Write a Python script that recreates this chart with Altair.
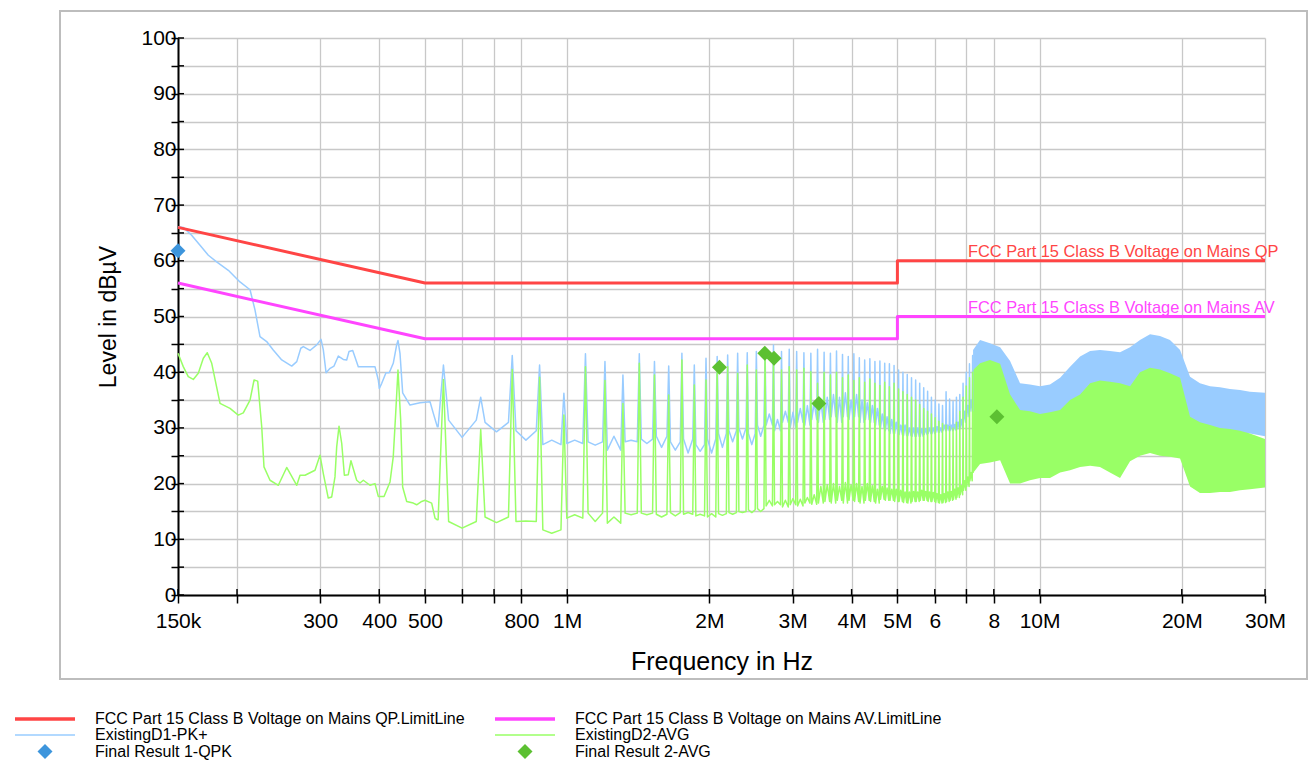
import json
import altair as alt
import pandas as pd

# ---------------- series names ----------------
QPN = "FCC Part 15 Class B Voltage on Mains QP.LimitLine"
AVN = "FCC Part 15 Class B Voltage on Mains AV.LimitLine"
PKN = "ExistingD1-PK+"
AGN = "ExistingD2-AVG"
F1N = "Final Result 1-QPK"
F2N = "Final Result 2-AVG"

# ---------------- limit lines (MHz, dBuV) ----------------
qp_f = [0.15, 0.5, 5.0, 5.0, 30.0]
qp_v = [66.0, 56.0, 56.0, 60.0, 60.0]
av_f = [0.15, 0.5, 5.0, 5.0, 30.0]
av_v = [56.0, 46.0, 46.0, 50.0, 50.0]

label_text = ["FCC Part 15 Class B Voltage on Mains QP", "FCC Part 15 Class B Voltage on Mains AV"]
label_f = [7.05, 7.05]
label_v = [60.0, 50.0]

# ---------------- low-frequency part of the traces ----------------
pk_start_f = [0.150, 0.1539, 0.1603, 0.1670, 0.1739, 0.1811, 0.1917, 0.2029, 0.2131, 0.2183,
              0.2237, 0.2311, 0.2386, 0.2487, 0.2611, 0.2676, 0.2729, 0.2763, 0.2854, 0.2949,
              0.3012, 0.3046, 0.3087, 0.3148, 0.3209, 0.3277, 0.3357, 0.3413, 0.3452, 0.3515,
              0.3612, 0.3918, 0.3982, 0.4002, 0.4049, 0.4134, 0.4200, 0.4283, 0.4355, 0.4383,
              0.4426, 0.4484, 0.4647, 0.4881, 0.5124, 0.5207, 0.5309]
pk_start_v = [66.1, 66.0, 64.6, 62.8, 61.0, 59.8, 58.3, 56.2, 54.8, 51.2,
              46.4, 45.5, 44.0, 42.2, 41.1, 41.9, 44.3, 44.6, 43.9, 44.9,
              45.9, 44.0, 39.9, 40.7, 41.1, 42.9, 42.3, 42.2, 43.7, 43.9,
              41.0, 41.0, 38.6, 37.1, 38.0, 39.9, 39.9, 41.6, 44.9, 45.7,
              43.4, 36.3, 34.1, 34.5, 34.7, 32.6, 30.2]

avg_start_f = [0.150, 0.1539, 0.1577, 0.1616, 0.1656, 0.1697, 0.1730, 0.1768, 0.1841, 0.1933,
               0.2012, 0.2062, 0.2131, 0.2173, 0.2212, 0.2256, 0.2281, 0.2349, 0.2446, 0.2548,
               0.2676, 0.2719, 0.2786, 0.2925, 0.2997, 0.3046, 0.3120, 0.3173, 0.3224, 0.3251,
               0.3288, 0.3332, 0.3375, 0.3440, 0.3485, 0.3584, 0.3642, 0.3702, 0.3824, 0.3918,
               0.3982, 0.4095, 0.4216, 0.4283, 0.4334, 0.4383, 0.4441, 0.4484, 0.4573, 0.4722,
               0.4801, 0.4920, 0.5000, 0.5165, 0.5250, 0.5309]
avg_start_v = [43.4, 41.0, 39.2, 38.7, 39.8, 42.5, 43.5, 41.6, 34.4, 33.5,
               32.3, 32.7, 35.0, 38.6, 38.4, 30.2, 23.0, 20.6, 19.7, 22.9,
               19.7, 21.5, 21.5, 22.4, 25.1, 21.8, 17.4, 17.6, 21.2, 26.6,
               30.3, 27.2, 21.5, 21.6, 24.1, 20.6, 20.1, 20.6, 19.7, 20.0,
               17.7, 17.7, 20.3, 24.8, 32.6, 40.4, 31.4, 19.4, 16.8, 16.5,
               16.2, 16.8, 17.0, 16.5, 13.8, 13.5]

# ---------------- harmonic spikes (MHz) ----------------
harm_f = [0.547, 0.656, 0.765, 0.874, 0.984, 1.093, 1.202, 1.312, 1.421, 1.530,
          1.640, 1.749, 1.858, 1.967, 2.077, 2.186, 2.295, 2.405, 2.514, 2.623,
          2.733, 2.842, 2.951, 3.060, 3.170, 3.279, 3.388, 3.498, 3.607, 3.716,
          3.826, 3.935, 4.044, 4.153, 4.263, 4.372, 4.481, 4.591, 4.700, 4.809,
          4.919, 5.028, 5.137, 5.246, 5.356, 5.465, 5.574, 5.684, 5.793, 5.902,
          6.012, 6.121, 6.230, 6.339, 6.449, 6.558, 6.667, 6.777, 6.886, 6.995,
          7.105, 7.214]
pk_peak = [41.3, 35.5, 43.0, 41.3, 36.2, 43.3, 41.9, 39.5, 43.3, 41.9,
           41.1, 43.4, 41.3, 42.5, 42.8, 43.1, 43.4, 43.5, 43.7, 44.0,
           44.9, 43.7, 44.1, 43.7, 43.5, 43.4, 44.1, 43.6, 43.4, 43.8,
           43.2, 42.8, 43.3, 42.6, 42.2, 42.4, 41.9, 42.0, 41.6, 41.5,
           41.2, 40.4, 40.0, 39.6, 39.0, 38.6, 38.0, 37.2, 36.6, 35.5,
           35.0, 34.3, 34.0, 36.5, 35.2, 34.8, 35.5, 36.0, 38.0, 40.0,
           41.5, 43.0]
avg_peak = [38.7, 29.7, 40.5, 39.1, 32.3, 41.0, 38.5, 34.4, 41.6, 39.5,
            35.9, 42.2, 37.7, 38.6, 41.0, 41.0, 39.8, 41.3, 40.4, 43.4,
            42.5, 40.4, 41.0, 40.4, 40.7, 40.1, 38.0, 40.0, 39.5, 40.0,
            39.0, 39.5, 38.5, 39.0, 38.2, 38.8, 38.0, 37.6, 38.2, 37.4,
            38.0, 37.0, 36.5, 36.0, 35.5, 35.0, 34.2, 33.5, 33.0, 32.5,
            31.8, 31.2, 30.8, 30.5, 30.2, 30.0, 31.0, 33.0, 35.5, 37.5,
            39.0, 40.0]
# noise floor between neighbouring harmonics: near the spikes / midway
pk_gap_base = [31.4, 31.0, 29.5, 27.0, 27.2, 27.5, 26.0, 27.5, 28.0, 28.5,
               27.5, 28.0, 27.0, 28.0, 29.0, 29.5, 30.0, 29.0, 30.5, 30.5,
               29.5, 31.0, 30.0, 31.0, 30.5, 31.5, 31.0, 31.5, 32.0, 31.0,
               32.0, 31.5, 32.0, 31.0, 31.5, 31.0, 30.5, 30.0, 29.5, 29.0,
               29.0, 28.8, 28.6, 28.6, 28.5, 28.5, 28.5, 28.8, 29.0, 29.0,
               29.2, 29.2, 29.5, 29.5, 29.5, 29.6, 29.8, 30.0, 31.0, 32.0,
               33.0]
pk_gap_mid = [28.3, 29.3, 27.8, 27.8, 27.8, 26.9, 28.5, 27.8, 27.2, 26.5,
              26.0, 25.5, 25.8, 25.5, 26.5, 27.5, 28.0, 27.0, 28.5, 32.5,
              31.5, 33.0, 32.8, 33.5, 34.0, 34.5, 35.0, 35.5, 36.0, 35.5,
              36.3, 35.0, 36.0, 35.0, 34.5, 34.0, 33.5, 32.5, 32.0, 31.5,
              31.0, 30.5, 30.5, 30.0, 30.0, 30.0, 29.8, 29.8, 30.0, 30.0,
              30.2, 30.0, 30.5, 30.5, 30.5, 30.6, 31.0, 31.5, 33.0, 34.0,
              35.0]
avg_gap_base = [13.2, 14.0, 13.2, 11.7, 13.8, 14.7, 12.9, 14.7, 14.7, 14.5,
                14.8, 14.5, 14.2, 14.0, 14.6, 14.8, 15.0, 15.3, 15.5, 16.0,
                16.2, 15.8, 16.2, 16.0, 16.5, 16.3, 16.5, 16.8, 16.5, 17.0,
                16.5, 17.0, 16.8, 16.5, 17.0, 16.8, 16.5, 17.2, 17.0, 17.0,
                16.8, 16.8, 16.6, 16.5, 16.8, 16.8, 17.0, 17.0, 16.8, 16.8,
                16.6, 16.5, 16.6, 16.8, 17.0, 17.2, 17.5, 18.0, 18.8, 19.5,
                20.5]
avg_gap_mid = [12.0, 13.0, 13.3, 11.1, 14.4, 13.2, 14.0, 14.4, 14.4, 14.0,
               14.2, 14.8, 14.5, 14.6, 14.3, 14.5, 14.8, 14.8, 15.0, 17.0,
               16.8, 17.0, 17.3, 17.2, 17.5, 18.0, 19.5, 19.8, 20.0, 19.5,
               20.2, 19.8, 20.0, 19.5, 20.0, 19.6, 19.0, 19.5, 19.2, 19.0,
               19.0, 18.8, 18.5, 18.5, 18.6, 18.5, 18.8, 18.6, 18.5, 18.4,
               18.2, 18.0, 18.2, 18.5, 18.6, 19.0, 19.2, 19.6, 20.5, 21.2,
               22.0]

# ---------------- dense part above ~7 MHz: envelope of the spectrum ----------------
band_f = [7.23, 7.48, 7.85, 8.25, 8.66, 9.09, 9.54, 10.02, 10.52, 11.05,
          11.60, 12.18, 12.79, 13.42, 14.09, 14.80, 15.54, 16.31, 17.13, 17.98,
          18.88, 19.83, 20.82, 21.85, 22.95, 24.09, 25.29, 26.56, 27.88, 30.0]
pk_band_hi = [44.0, 45.8, 45.2, 44.5, 42.0, 38.0, 37.8, 37.5, 37.8, 39.0,
              41.0, 42.8, 43.8, 44.0, 43.8, 43.6, 44.5, 45.8, 46.8, 46.5,
              45.8, 44.0, 39.2, 38.0, 37.5, 37.3, 37.0, 36.8, 36.5, 36.3]
pk_band_lo = [33.0, 33.0, 33.0, 33.0, 31.5, 30.5, 30.0, 30.0, 30.2, 30.5,
              31.0, 32.0, 33.0, 33.0, 33.0, 33.0, 33.5, 34.0, 34.5, 34.5,
              34.0, 33.0, 31.0, 30.5, 30.0, 29.8, 29.5, 29.2, 29.0, 28.5]
avg_band_hi = [40.4, 41.6, 42.2, 41.5, 36.0, 33.2, 33.0, 32.5, 32.8, 33.2,
               35.0, 36.0, 38.0, 38.5, 38.3, 38.0, 37.5, 40.0, 40.8, 40.5,
               39.8, 39.0, 32.0, 31.0, 30.5, 30.0, 29.8, 29.5, 29.0, 28.0]
avg_band_lo = [21.9, 23.5, 23.8, 24.2, 20.0, 20.0, 20.6, 21.0, 21.0, 22.0,
               22.4, 23.0, 23.2, 23.0, 22.0, 21.0, 24.0, 25.0, 25.5, 25.0,
               24.8, 24.5, 19.5, 18.3, 18.3, 18.5, 18.5, 18.8, 19.0, 19.3]

# ---------------- final results ----------------
qpk_f = [0.150]
qpk_v = [61.8]
fav_f = [2.10, 2.62, 2.74, 3.41, 8.12]
fav_v = [40.9, 43.4, 42.5, 34.4, 32.0]

# ---------------- axis ticks ----------------
x_ticks = [0.15, 0.2, 0.3, 0.4, 0.5, 0.6, 0.7, 0.8, 1, 2, 3, 4, 5, 6, 7, 8, 10, 20, 30]
x_tick_labels = ["150k", "", "300", "400", "500", "", "", "800", "1M", "2M", "3M", "4M",
                 "5M", "6", "", "8", "10M", "20M", "30M"]
y_ticks = list(range(0, 101, 5))

# ---------------- build trace polylines ----------------
HW = 0.014  # displayed half width of a harmonic peak, MHz


def build_trace(start_f, start_v, peaks, gap_base, gap_mid, end_v):
    fs = list(start_f)
    vs = list(start_v)
    n = len(harm_f)
    for i in range(n):
        left = gap_base[i - 1] if i > 0 else start_v[-1]
        fs += [harm_f[i] - HW, harm_f[i]]
        vs += [left, peaks[i]]
        if i < n - 1:
            fs += [harm_f[i] + HW, (harm_f[i] * harm_f[i + 1]) ** 0.5]
            vs += [gap_base[i], gap_mid[i]]
        else:
            fs += [harm_f[i] + HW]
            vs += [end_v]
    return fs, vs


pk_f, pk_v = build_trace(pk_start_f, pk_start_v, pk_peak, pk_gap_base, pk_gap_mid, pk_band_lo[0])
ag_f, ag_v = build_trace(avg_start_f, avg_start_v, avg_peak, avg_gap_base, avg_gap_mid, avg_band_lo[0])

band_df = pd.DataFrame({"f": band_f, "pkhi": pk_band_hi, "pklo": pk_band_lo,
                        "aghi": avg_band_hi, "aglo": avg_band_lo})

FONT = "Liberation Sans"
GRID = "#C8C8C8"

x_label_expr = f"{json.dumps(x_tick_labels)}[indexof({json.dumps(x_ticks)}, datum.value)]"

x_axis = alt.Axis(values=x_ticks, labelExpr=x_label_expr, grid=True, gridColor=GRID, gridWidth=1.3,
                  domainColor="black", domainWidth=2, tickColor="black", tickWidth=1.5, tickSize=8,
                  labelFont=FONT, labelFontSize=21, labelColor="black", labelPadding=7,
                  labelFlush=False, labelOverlap=False,
                  titleFont=FONT, titleFontSize=25, titleFontWeight="normal", titleColor="black",
                  titlePadding=18)
y_axis = alt.Axis(values=y_ticks, labelExpr="datum.value % 10 === 0 ? datum.label : ''",
                  grid=True, gridColor=GRID, gridWidth=1.3,
                  domainColor="black", domainWidth=2, tickColor="black", tickWidth=1.5, tickSize=7,
                  labelFont=FONT, labelFontSize=21, labelColor="black", labelPadding=-5,
                  labelFlush=False, labelOverlap=False,
                  titleFont=FONT, titleFontSize=23, titleFontWeight="normal", titleColor="black",
                  titlePadding=20)

xs = alt.Scale(type="log", domain=[0.15, 30], nice=False)
ys = alt.Scale(domain=[0, 100], nice=False, zero=False)
XT = "Frequency in Hz"
YT = "Level in dBµV"


def X(field="f"):
    return alt.X(f"{field}:Q", scale=xs, axis=x_axis, title=XT)


def Y(field="v"):
    return alt.Y(f"{field}:Q", scale=ys, axis=y_axis, title=YT)


def one_color(name, colour, lx, ly, sym, size, sw, laboff):
    return alt.Color(
        "series:N",
        scale=alt.Scale(domain=[name], range=[colour]),
        legend=alt.Legend(orient="none", legendX=lx, legendY=ly, symbolType=sym, symbolSize=size,
                          symbolStrokeWidth=sw, labelOffset=laboff, labelFont=FONT,
                          labelFontSize=16, labelColor="black", labelLimit=800,
                          clipHeight=16, padding=0, title=None),
        title=None,
    )


def line_layer(fs, vs, name, colour, width, lx, ly, sw, laboff):
    df = pd.DataFrame({"f": fs, "v": vs, "i": range(len(fs)), "series": name})
    return alt.Chart(df).mark_line(strokeWidth=width, strokeJoin="round").encode(
        x=X(), y=Y(), order="i:Q",
        color=one_color(name, colour, lx, ly, "stroke", 3600, sw, laboff))


def point_layer(fs, vs, name, colour, lx, ly, laboff):
    df = pd.DataFrame({"f": fs, "v": vs, "series": name})
    return alt.Chart(df).mark_point(shape="diamond", filled=True, size=225, opacity=1).encode(
        x=X(), y=Y(), color=one_color(name, colour, lx, ly, "diamond", 225, 0, laboff))


frame = alt.Chart(pd.DataFrame({"a": [0]})).mark_rect(
    fill="transparent", stroke="#BDBDBD", strokeWidth=2
).encode(x=alt.value(-118), x2=alt.value(1129), y=alt.value(-27), y2=alt.value(641))

# short inner tick marks on both axes
ytick_df = pd.DataFrame({"v": y_ticks})
ytick_in = alt.Chart(ytick_df).mark_rule(color="black", strokeWidth=1.5).encode(
    y=Y(), x=alt.value(0), x2=alt.value(6))
xtick_df = pd.DataFrame({"f": x_ticks})
xtick_in = alt.Chart(xtick_df).mark_rule(color="black", strokeWidth=1.5).encode(
    x=X(), y=alt.value(551), y2=alt.value(557))

pk_band = alt.Chart(band_df).mark_area(color="#99CCFF", opacity=1).encode(
    x=X(), y=Y("pkhi"), y2="pklo:Q")
ag_band = alt.Chart(band_df).mark_area(color="#99FF66", opacity=1).encode(
    x=X(), y=Y("aghi"), y2="aglo:Q")

pk_line = line_layer(pk_f, pk_v, PKN, "#99CCFF", 1.5, -164, 689, 1.5, 19)
ag_line = line_layer(ag_f, ag_v, AGN, "#99FF66", 1.5, 316, 689, 1.5, 19)
qp_line = line_layer(qp_f, qp_v, QPN, "#FF4545", 3, -165, 673, 3.5, 18)
av_line = line_layer(av_f, av_v, AVN, "#FF45FF", 3, 315, 673, 3.5, 18)
qpk_pts = point_layer(qpk_f, qpk_v, F1N, "#3D95DC", -141, 705.5, 42)
fav_pts = point_layer(fav_f, fav_v, F2N, "#5CC032", 339, 705.5, 42)

label_colors = ["#FF4545", "#FF45FF"]
labels = []
for t, f, v, c in zip(label_text, label_f, label_v, label_colors):
    labels.append(
        alt.Chart(pd.DataFrame({"f": [f], "v": [v], "t": [t]})).mark_text(
            align="left", baseline="alphabetic", dy=-4, font=FONT, fontSize=16.4, color=c
        ).encode(x=X(), y=Y(), text="t:N")
    )

chart = alt.layer(
    frame, pk_band, ag_band, pk_line, ag_line, qp_line, av_line, ytick_in, xtick_in,
    qpk_pts, fav_pts, *labels
).resolve_scale(
    color="independent"
).properties(
    width=1087, height=557,
    padding={"left": 178, "top": 38, "right": 46, "bottom": 170},
    autosize=alt.AutoSizeParams(type="none"),
    background="white",
).configure(font=FONT).configure_view(strokeWidth=0)

chart.save("out.html", embed_options={"renderer": "svg", "actions": False})
